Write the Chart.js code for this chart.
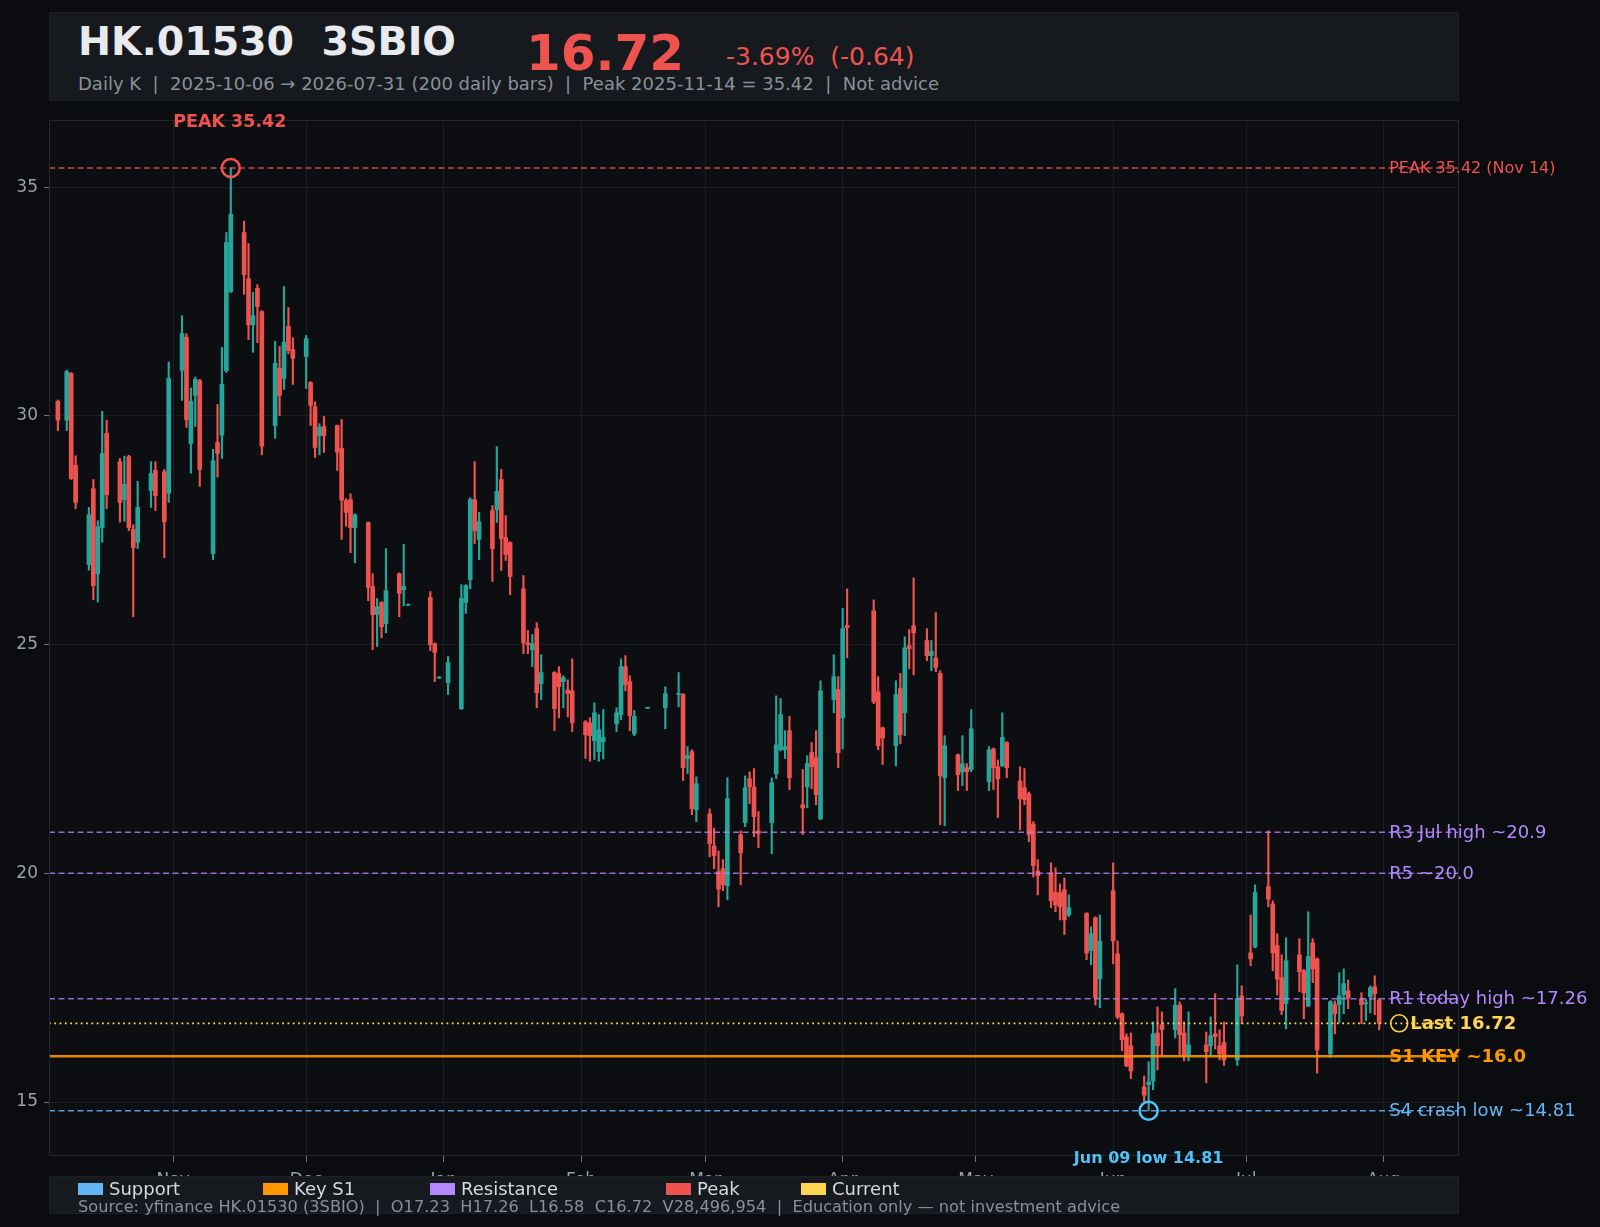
<!DOCTYPE html>
<html>
<head>
<meta charset="utf-8">
<script src="https://cdn.jsdelivr.net/npm/chart.js@4.4.1/dist/chart.umd.min.js"></script>
<style>
  html, body { margin: 0; padding: 0; background: #0b0c0f; }
  body { width: 1600px; height: 1227px; position: relative; overflow: hidden; font-family: "DejaVu Sans", sans-serif; }
  #chart { position: absolute; left: 0; top: 0; }
  .panel { position: absolute; left: 49px; width: 1410px; background: #161a1f; box-sizing: border-box; border: 1px solid #1d2127; }
  #head { top: 12px; height: 89px; }
  #foot { top: 1176px; height: 38px; z-index: 2; }
  .t { position: absolute; line-height: 1; white-space: pre; }
  .item { position: absolute; top: 2.5px; font-size: 18px; line-height: 1; color: #d5d8dc; white-space: pre; }
  .item i { position: absolute; left: -31px; top: 3.5px; width: 25px; height: 11.5px; }
</style>
</head>
<body>
<canvas id="chart" width="1600" height="1227"></canvas>

<div id="head" class="panel">
  <div class="t" style="left:28px; top:9px; font-size:39.5px; font-weight:bold; color:#e8eaed;">HK.01530  3SBIO</div>
  <div class="t" style="left:476px; top:15px; font-size:50px; font-weight:bold; color:#ef5350;">16.72</div>
  <div class="t" style="left:676px; top:31px; font-size:25px; color:#ef5350;">-3.69%  (-0.64)</div>
  <div class="t" style="left:28px; top:61.5px; font-size:18px; color:#8b9098;">Daily K  |  2025-10-06 → 2026-07-31 (200 daily bars)  |  Peak 2025-11-14 = 35.42  |  Not advice</div>
</div>

<div id="foot" class="panel">
  <span class="item" style="left:59px;"><i style="background:#64b5f6"></i>Support</span>
  <span class="item" style="left:244px;"><i style="background:#ff9800"></i>Key S1</span>
  <span class="item" style="left:411px;"><i style="background:#b388ff"></i>Resistance</span>
  <span class="item" style="left:647px;"><i style="background:#ef5350"></i>Peak</span>
  <span class="item" style="left:782px;"><i style="background:#ffd54f"></i>Current</span>
  <div class="t" style="left:28px; top:22px; font-size:16.2px; color:#8b9098;">Source: yfinance HK.01530 (3SBIO)  |  O17.23  H17.26  L16.58  C16.72  V28,496,954  |  Education only — not investment advice</div>
</div>

<script>
// Daily K data
const dates = [
  "2025-10-06","2025-10-08","2025-10-09","2025-10-10","2025-10-13","2025-10-14","2025-10-15","2025-10-16","2025-10-17",
  "2025-10-20","2025-10-21","2025-10-22","2025-10-23","2025-10-24","2025-10-27","2025-10-28","2025-10-30","2025-10-31",
  "2025-11-03","2025-11-04","2025-11-05","2025-11-06","2025-11-07","2025-11-10","2025-11-11","2025-11-12","2025-11-13",
  "2025-11-14","2025-11-17","2025-11-18","2025-11-19","2025-11-20","2025-11-21","2025-11-24","2025-11-25","2025-11-26",
  "2025-11-27","2025-11-28",
  "2025-12-01","2025-12-02","2025-12-03","2025-12-04","2025-12-05","2025-12-08","2025-12-09","2025-12-10","2025-12-11",
  "2025-12-12","2025-12-15","2025-12-16","2025-12-17","2025-12-18","2025-12-19","2025-12-22","2025-12-23","2025-12-24",
  "2025-12-29","2025-12-30","2025-12-31",
  "2026-01-02","2026-01-05","2026-01-06","2026-01-07","2026-01-08","2026-01-09","2026-01-12","2026-01-13","2026-01-14",
  "2026-01-15","2026-01-16","2026-01-19","2026-01-20","2026-01-21","2026-01-22","2026-01-23","2026-01-26","2026-01-27",
  "2026-01-28","2026-01-29","2026-01-30",
  "2026-02-02","2026-02-03","2026-02-04","2026-02-05","2026-02-06","2026-02-09","2026-02-10","2026-02-11","2026-02-12",
  "2026-02-13","2026-02-16","2026-02-20","2026-02-23","2026-02-24","2026-02-25","2026-02-26","2026-02-27",
  "2026-03-02","2026-03-03","2026-03-04","2026-03-05","2026-03-06","2026-03-09","2026-03-10","2026-03-11","2026-03-12",
  "2026-03-13","2026-03-16","2026-03-17","2026-03-18","2026-03-19","2026-03-20","2026-03-23","2026-03-24","2026-03-25",
  "2026-03-26","2026-03-27","2026-03-30","2026-03-31",
  "2026-04-01","2026-04-02","2026-04-08","2026-04-09","2026-04-10","2026-04-13","2026-04-14","2026-04-15","2026-04-16",
  "2026-04-17","2026-04-20","2026-04-21","2026-04-22","2026-04-23","2026-04-24","2026-04-27","2026-04-28","2026-04-29",
  "2026-04-30",
  "2026-05-04","2026-05-05","2026-05-06","2026-05-07","2026-05-08","2026-05-11","2026-05-12","2026-05-13","2026-05-14",
  "2026-05-15","2026-05-18","2026-05-19","2026-05-20","2026-05-21","2026-05-22","2026-05-26","2026-05-27","2026-05-28",
  "2026-05-29",
  "2026-06-01","2026-06-02","2026-06-03","2026-06-04","2026-06-05","2026-06-08","2026-06-09","2026-06-10","2026-06-11",
  "2026-06-12","2026-06-15","2026-06-16","2026-06-17","2026-06-18","2026-06-22","2026-06-23","2026-06-24","2026-06-25",
  "2026-06-26","2026-06-29","2026-06-30",
  "2026-07-02","2026-07-03","2026-07-06","2026-07-07","2026-07-08","2026-07-09","2026-07-10","2026-07-13","2026-07-14",
  "2026-07-15","2026-07-16","2026-07-17","2026-07-20","2026-07-21","2026-07-22","2026-07-23","2026-07-24","2026-07-27",
  "2026-07-28","2026-07-29","2026-07-30","2026-07-31"
];

const opens = [
  30.32,29.91,30.93,28.92,26.75,28.41,26.55,27.56,29.62,29.00,28.17,29.11,27.52,27.24,28.37,28.81,28.78,28.31,
  31.00,31.72,29.40,30.45,30.77,26.99,29.42,29.58,30.99,32.72,34.01,33.00,31.99,32.79,32.28,29.79,31.04,30.82,31.96,31.45,
  31.30,30.73,30.20,29.57,29.77,29.79,29.29,28.15,28.17,27.56,27.67,26.27,25.66,25.92,25.46,26.55,26.20,25.86,26.03,25.02,24.27,
  24.17,23.60,25.92,26.42,28.17,27.30,27.93,27.95,28.61,27.34,27.23,26.22,25.04,24.89,25.35,24.15,24.39,24.37,24.19,24.01,23.99,
  23.31,23.29,22.90,22.66,22.88,23.27,23.47,24.52,24.19,23.05,23.61,23.62,23.91,23.91,22.51,22.66,21.39,
  21.30,20.60,20.04,20.10,19.73,20.84,21.11,22.07,21.89,20.93,21.11,22.18,22.70,22.70,23.12,21.50,21.89,22.64,22.53,21.19,23.80,24.02,
  23.40,25.42,25.74,23.97,23.18,22.79,24.04,23.51,24.98,25.41,25.09,24.76,24.71,24.37,22.09,22.59,22.22,22.31,22.27,
  22.00,22.72,22.33,22.35,22.86,22.02,21.87,21.74,21.08,20.05,20.01,19.58,19.58,19.64,19.09,19.12,18.31,19.03,17.69,
  19.62,18.24,16.93,16.42,16.23,15.33,15.38,15.46,16.51,16.69,16.58,17.12,16.51,16.03,16.25,16.23,16.49,16.23,16.30,15.92,17.32,
  18.26,18.39,19.71,19.33,18.42,17.72,17.15,18.22,17.87,17.10,18.48,18.13,16.05,17.13,17.13,17.35,17.43,17.26,17.15,17.30,17.52,17.23
];

const highs = [
  30.35,31.00,30.95,29.13,28.00,28.61,27.71,30.10,29.91,29.07,29.12,29.14,27.62,28.57,29.00,29.00,28.83,31.18,
  32.19,31.80,30.61,30.85,30.80,29.27,30.25,31.50,34.01,35.42,34.26,33.77,32.70,32.87,32.30,31.63,31.52,32.83,32.37,31.71,
  31.76,30.75,30.31,29.83,29.99,29.80,29.92,28.19,28.30,27.86,27.68,26.55,26.01,25.94,27.10,26.57,27.19,25.89,26.16,25.04,24.30,
  24.74,26.31,26.31,28.21,29.00,27.89,28.04,29.33,28.83,27.82,27.25,26.51,25.31,25.22,25.48,24.78,24.41,24.52,24.32,24.23,24.69,
  23.34,23.40,23.73,23.47,23.58,23.62,24.69,24.76,24.32,23.56,23.63,24.08,24.39,23.93,22.77,22.70,22.11,
  21.41,20.99,20.49,20.30,22.09,20.93,22.13,22.22,22.29,21.35,22.09,23.88,23.82,23.12,23.43,22.27,22.57,22.86,23.12,24.21,24.78,24.30,
  25.79,26.22,25.98,24.30,23.20,24.21,24.37,25.17,25.33,26.46,25.35,25.09,25.70,24.43,23.01,22.61,23.01,22.40,23.58,
  22.77,22.74,22.48,23.51,22.88,22.33,22.29,21.78,21.13,20.30,20.23,20.12,19.77,19.90,19.53,19.14,18.83,19.05,19.09,
  20.23,18.52,16.95,16.49,16.51,15.57,15.88,16.75,17.08,16.97,17.48,17.19,16.75,16.97,16.53,16.86,17.37,16.58,16.75,18.00,17.54,
  19.09,19.75,20.93,19.40,18.68,18.22,18.59,18.57,17.90,19.16,18.57,18.15,17.22,17.21,17.83,17.91,17.67,17.39,17.24,17.54,17.76,17.26
];

const lows = [
  29.68,29.68,28.61,27.97,26.63,25.98,25.93,27.24,27.97,27.68,27.70,27.49,25.61,27.10,28.00,27.93,26.90,28.11,
  30.34,29.75,28.75,29.77,28.46,26.86,28.66,29.07,30.95,32.70,32.66,31.67,31.39,31.60,29.15,29.51,30.01,30.58,31.36,30.69,
  30.60,29.79,29.09,29.15,29.20,28.81,27.30,27.59,27.01,26.79,25.96,24.89,24.96,25.15,25.26,25.61,25.85,25.85,24.87,24.19,24.26,
  23.91,23.58,25.68,26.22,27.21,26.86,26.38,27.67,26.62,26.84,26.09,24.80,24.80,24.52,23.62,23.80,23.12,23.40,23.62,23.42,23.10,
  22.51,22.45,22.49,22.45,22.50,23.10,23.36,23.99,23.12,23.01,23.60,23.16,23.64,22.03,22.18,21.28,21.13,
  20.36,20.10,19.27,19.62,19.42,19.75,21.02,21.52,20.80,20.56,20.43,22.07,22.68,22.51,21.83,20.85,21.43,21.85,21.50,21.17,23.51,22.31,
  22.72,24.71,23.71,22.70,22.38,22.35,22.83,23.01,24.47,24.34,24.65,24.43,24.41,21.06,21.04,21.81,21.92,21.81,22.22,
  21.81,21.83,21.22,22.33,22.09,20.95,21.50,20.69,19.92,19.53,19.25,19.16,18.98,18.66,19.05,18.11,18.00,17.12,17.06,
  18.02,16.82,16.12,15.77,15.51,15.00,14.81,15.27,15.70,16.01,16.40,16.03,15.90,15.90,15.42,16.01,16.16,15.92,15.80,15.80,16.71,
  17.98,18.37,19.27,17.87,17.34,16.91,16.60,17.41,16.82,17.08,17.61,15.63,15.98,16.49,16.73,16.93,17.04,16.71,16.78,16.95,16.91,16.58
];

const closes = [
  29.91,30.97,28.63,28.11,27.84,26.29,27.58,29.18,28.28,28.11,28.50,27.56,27.12,28.00,28.74,28.26,27.69,30.82,
  31.80,29.92,30.32,30.80,28.83,29.02,29.18,30.69,33.79,34.41,33.09,31.99,32.19,32.39,29.34,31.15,30.45,31.61,31.43,31.26,
  31.69,30.23,29.31,29.75,29.57,29.21,28.16,27.89,27.56,27.84,26.25,25.66,25.83,25.39,26.18,26.12,26.27,25.88,25.00,24.83,24.29,
  24.61,26.01,26.29,28.17,27.49,27.69,27.10,28.35,27.32,26.97,26.49,25.04,25.00,25.02,23.95,24.39,23.60,24.08,24.28,23.93,23.29,
  23.03,23.01,23.51,23.14,22.97,23.51,24.52,24.13,23.45,23.43,23.62,23.93,23.93,22.31,22.57,21.41,21.96,
  20.65,20.39,19.66,19.75,21.63,20.45,21.87,21.89,21.24,20.87,21.98,22.81,23.47,22.77,22.09,21.43,22.40,22.33,21.72,23.99,24.30,22.64,
  25.35,25.37,23.75,22.79,22.96,23.91,23.03,24.93,24.91,25.26,24.76,24.85,24.50,22.13,22.79,22.16,22.40,22.22,23.16,
  22.70,22.31,22.07,22.97,22.31,21.63,21.61,20.84,20.17,19.95,19.40,19.31,19.27,18.98,19.25,18.26,18.68,17.28,18.52,
  18.52,16.86,16.36,15.79,15.68,15.15,15.44,16.49,16.23,16.58,17.12,16.47,16.03,16.25,16.10,16.45,16.43,16.05,15.92,17.26,16.88,
  18.13,19.58,19.44,18.26,17.69,17.00,18.09,17.85,17.39,18.18,17.91,16.14,17.19,16.93,17.32,17.59,17.28,17.13,17.17,17.50,17.37,16.72
];

// axis ticks
const monthStarts = ["2025-11-01","2025-12-01","2026-01-01","2026-02-01","2026-03-01","2026-04-01","2026-05-01","2026-06-01","2026-07-01","2026-08-01"];
const monthNames = ["Nov","Dec","Jan","Feb","Mar","Apr","May","Jun","Jul","Aug"];
const yTicks = [15, 20, 25, 30, 35];

// key levels
const levelValues = [35.42, 20.9, 20.0, 17.26, 16.72, 16.0, 14.81];
const levelLabels = ["PEAK 35.42 (Nov 14)", "R3 Jul high ~20.9", "R5 ~20.0", "R1 today high ~17.26", "Last 16.72", "S1 KEY ~16.0", "S4 crash low ~14.81"];

// marked extremes
const peakDate = "2025-11-14", peakValue = 35.42;
const lowDate = "2026-06-09", lowValue = 14.81;

const FONT = '"DejaVu Sans", sans-serif';
const UP = "#26a69a", DOWN = "#ef5350";

// days since the first bar, so the x axis runs on calendar time
const DAY0 = Date.UTC(2025, 9, 6);
function dayOf(s) {
  const [y, m, d] = s.split("-").map(Number);
  return (Date.UTC(y, m - 1, d) - DAY0) / 86400000;
}
const days = dates.map(dayOf);
const monthDays = monthStarts.map(dayOf);
const X_MIN = -2, X_MAX = 316;

const candleColors = closes.map((c, i) => (c >= opens[i] ? UP : DOWN));

const levelStyles = [
  { line: "rgba(239,83,80,0.85)", text: "#ef5350", dash: [6, 3.5], width: 1.4, font: "16px " + FONT },
  { line: "rgba(179,136,255,0.78)", text: "#b388ff", dash: [6, 3.5], width: 1.5, font: "18px " + FONT },
  { line: "rgba(179,136,255,0.78)", text: "#b388ff", dash: [6, 3.5], width: 1.5, font: "18px " + FONT },
  { line: "rgba(179,136,255,0.78)", text: "#b388ff", dash: [6, 3.5], width: 1.5, font: "18px " + FONT },
  { line: "#ffd54f", text: "#ffd54f", dash: [1.8, 3.5], width: 1.8, font: "bold 18px " + FONT, ring: true },
  { line: "rgba(255,152,0,0.88)", text: "#ff9800", dash: [], width: 2.6, font: "bold 18px " + FONT },
  { line: "rgba(100,181,246,0.85)", text: "#64b5f6", dash: [6, 3.5], width: 1.4, font: "18px " + FONT },
];

const levelDatasets = levelValues.map((v, i) => ({
  type: "line",
  data: [{ x: X_MIN, y: v }, { x: X_MAX, y: v }],
  borderColor: levelStyles[i].line,
  borderWidth: levelStyles[i].width,
  borderDash: levelStyles[i].dash,
  pointRadius: 0,
  fill: false,
  order: 1,
}));

const markerDatasets = [
  { type: "scatter", data: [{ x: dayOf(peakDate), y: peakValue }], pointRadius: 9, pointBorderWidth: 2.6,
    pointBorderColor: "#ef5350", pointBackgroundColor: "rgba(0,0,0,0)", clip: false, order: 0 },
  { type: "scatter", data: [{ x: dayOf(lowDate), y: lowValue }], pointRadius: 9, pointBorderWidth: 2.6,
    pointBorderColor: "#4fc3f7", pointBackgroundColor: "rgba(0,0,0,0)", clip: false, order: 0 },
];

const bodies = {
  type: "bar",
  data: days.map((x, i) => ({ x: x, y: [opens[i], closes[i]] })),
  backgroundColor: candleColors,
  barThickness: 4,
  minBarLength: 1,
  grouped: false,
  order: 2,
};

const wicks = {
  type: "bar",
  data: days.map((x, i) => ({ x: x, y: [lows[i], highs[i]] })),
  backgroundColor: candleColors,
  barThickness: 1.5,
  grouped: false,
  order: 3,
};

// plot background and frame
const framePlugin = {
  id: "frame",
  beforeDraw(chart) {
    const { ctx, chartArea: a } = chart;
    ctx.save();
    ctx.fillStyle = "#0d0e12";
    ctx.fillRect(a.left, a.top, a.right - a.left, a.bottom - a.top);
    ctx.restore();
  },
  afterDatasetsDraw(chart) {
    const { ctx, chartArea: a } = chart;
    ctx.save();
    ctx.strokeStyle = "#24282e";
    ctx.lineWidth = 1;
    ctx.strokeRect(a.left + 0.5, a.top + 0.5, a.right - a.left - 1, a.bottom - a.top - 1);
    ctx.restore();
  },
};

// level labels and extreme annotations
const labelPlugin = {
  id: "labels",
  afterDraw(chart) {
    const { ctx } = chart;
    const xs = chart.scales.x, ys = chart.scales.y;
    const lx = xs.getPixelForValue(days[days.length - 1]) + 10;
    ctx.save();
    ctx.textBaseline = "middle";
    ctx.textAlign = "left";
    levelValues.forEach((v, i) => {
      const st = levelStyles[i];
      const y = ys.getPixelForValue(v);
      ctx.font = st.font;
      ctx.fillStyle = st.text;
      if (st.ring) {
        ctx.strokeStyle = st.text;
        ctx.lineWidth = 1.5;
        ctx.beginPath();
        ctx.arc(lx + 10, y, 8.5, 0, Math.PI * 2);
        ctx.stroke();
        ctx.fillText(levelLabels[i], lx + 21, y + 1);
      } else {
        ctx.fillText(levelLabels[i], lx, y + 1);
      }
    });
    ctx.textAlign = "center";
    ctx.font = "bold 17.5px " + FONT;
    ctx.fillStyle = "#ef5350";
    ctx.fillText("PEAK " + peakValue.toFixed(2), xs.getPixelForValue(dayOf(peakDate)) - 1, ys.getPixelForValue(peakValue) - 46);
    ctx.font = "bold 16px " + FONT;
    ctx.fillStyle = "#4fc3f7";
    ctx.fillText("Jun 09 low " + lowValue.toFixed(2), xs.getPixelForValue(dayOf(lowDate)), ys.getPixelForValue(lowValue) + 48);
    ctx.restore();
  },
};

new Chart(document.getElementById("chart"), {
  type: "bar",
  data: { datasets: [...markerDatasets, ...levelDatasets, bodies, wicks] },
  options: {
    responsive: false,
    animation: false,
    devicePixelRatio: 1,
    events: [],
    layout: { padding: { left: 0, top: 120, right: 141, bottom: 0 } },
    plugins: { legend: { display: false }, tooltip: { enabled: false } },
    scales: {
      x: {
        type: "linear",
        min: X_MIN,
        max: X_MAX,
        offset: false,
        afterBuildTicks: (s) => { s.ticks = monthDays.map((v) => ({ value: v })); },
        afterFit: (s) => { s.height = 71; },
        ticks: {
          autoSkip: false,
          maxRotation: 0,
          padding: 8,
          color: "#9aa0a6",
          font: { family: FONT, size: 17 },
          callback: (v, i) => monthNames[i],
        },
        grid: { offset: false, color: "#1a1d22", tickColor: "#70757c", tickLength: 6 },
        border: { display: false },
      },
      y: {
        type: "linear",
        min: 13.82,
        max: 36.47,
        afterBuildTicks: (s) => { s.ticks = yTicks.map((v) => ({ value: v })); },
        afterFit: (s) => { s.width = 49; },
        ticks: {
          padding: 6,
          color: "#9aa0a6",
          font: { family: FONT, size: 17 },
          callback: (v) => String(v),
        },
        grid: { color: "#1a1d22", tickColor: "#70757c", tickLength: 5 },
        border: { display: false },
      },
    },
  },
  plugins: [framePlugin, labelPlugin],
});
</script>
</body>
</html>
